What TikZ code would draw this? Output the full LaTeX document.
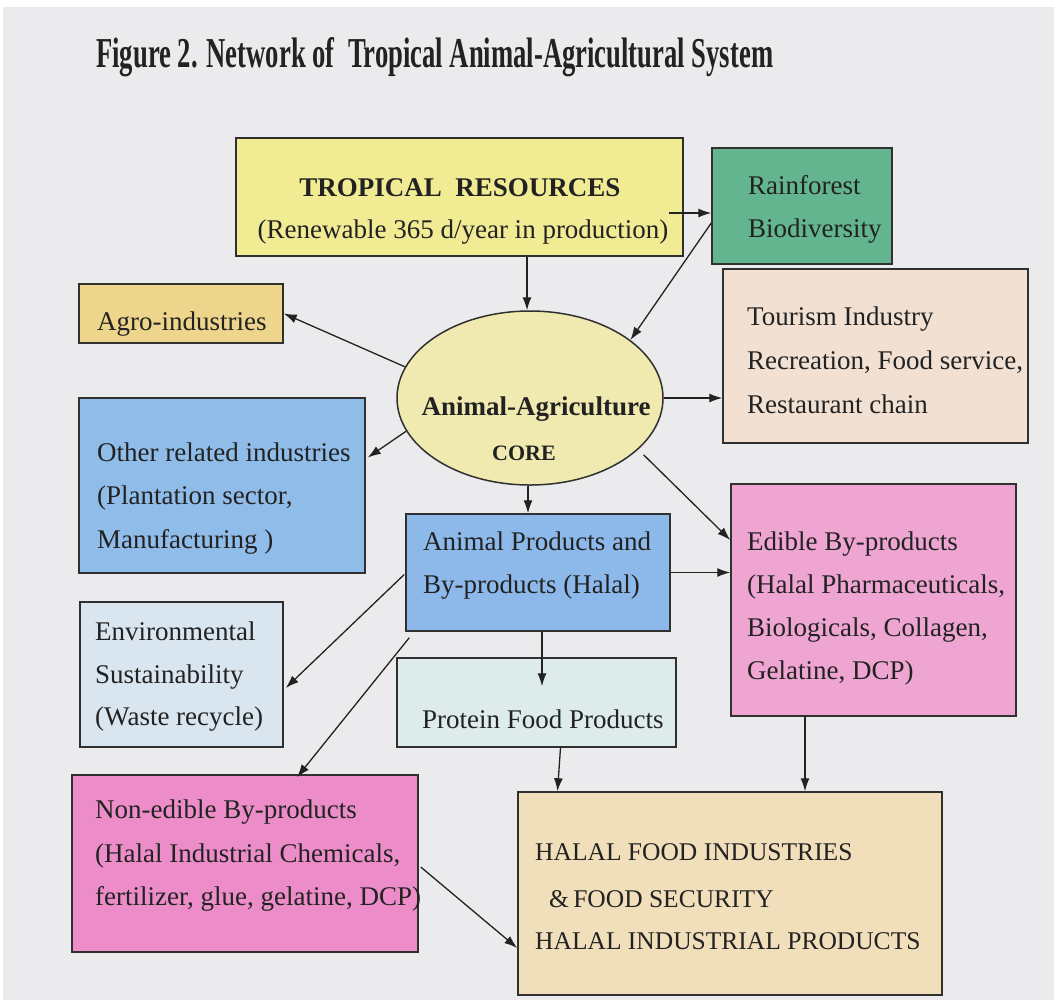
\documentclass[tikz,border=0pt]{standalone}
\usepackage{fontspec}
\setmainfont{Liberation Serif}
\usetikzlibrary{arrows.meta,shapes.geometric}
\definecolor{bgc}{HTML}{EBEBED}
\definecolor{ink}{HTML}{222222}
\definecolor{boxline}{HTML}{303030}
\definecolor{tropY}{HTML}{F1EC93}
\definecolor{rainG}{HTML}{62B58E}
\definecolor{agroO}{HTML}{EED58C}
\definecolor{tourP}{HTML}{F2E1D3}
\definecolor{coreY}{HTML}{F1EAB0}
\definecolor{blueA}{HTML}{8FBCE8}
\definecolor{blueB}{HTML}{8CB9E9}
\definecolor{envB}{HTML}{D9E6F0}
\definecolor{protC}{HTML}{DDEBEB}
\definecolor{pinkE}{HTML}{EFA5D2}
\definecolor{pinkN}{HTML}{EC8DC9}
\definecolor{halalT}{HTML}{F1DEBB}
\begin{document}
\begin{tikzpicture}[x=1pt,y=-1pt,
  box/.style={draw=boxline, line width=1.5pt, inner sep=0pt},
  txt/.style={anchor=base west, inner sep=0pt, text=ink, font=\fontsize{27}{32}\selectfont},
  ctxt/.style={txt, anchor=base},
  arr/.style={draw=ink, line width=1.3pt, -{Latex[length=13pt,width=9pt]}},
  ln/.style={draw=ink, line width=1.3pt}]
% background
\fill[white] (0,0) rectangle (1054,1005);
\fill[bgc] (3,7) rectangle (1054,1000);
\useasboundingbox (0,0) rectangle (1054,1005);

% title
\node[anchor=base west, inner sep=0pt, text=ink] (title) at (96,67)
  {\resizebox{677pt}{30pt}{\fontsize{41}{41}\selectfont\bfseries Figure 2. Network of~~Tropical Animal-Agricultural System}};

% boxes
\node[box, fill=tropY, minimum width=447pt, minimum height=118pt] (trop) at (459.5,197) {};
\node[box, fill=rainG, minimum width=180pt, minimum height=116pt] (rain) at (802,206) {};
\node[box, fill=agroO, minimum width=204pt, minimum height=59pt] (agro) at (181,313.5) {};
\node[box, fill=tourP, minimum width=305pt, minimum height=174pt] (tour) at (875.5,356) {};
\node[box, ellipse, fill=coreY, minimum width=266pt, minimum height=174pt] (core) at (530,398) {};
\node[box, fill=blueA, minimum width=286pt, minimum height=175pt] (oth) at (222,485.5) {};
\node[box, fill=blueB, minimum width=264pt, minimum height=117pt] (anim) at (538,572.5) {};
\node[box, fill=pinkE, minimum width=285pt, minimum height=232pt] (edib) at (873.5,600) {};
\node[box, fill=envB, minimum width=203pt, minimum height=145pt] (env) at (181.5,674.5) {};
\node[box, fill=protC, minimum width=279pt, minimum height=89pt] (prot) at (536.5,702.5) {};
\node[box, fill=pinkN, minimum width=346pt, minimum height=177pt] (nonb) at (245,863.5) {};
\node[box, fill=halalT, minimum width=424pt, minimum height=203pt] (halal) at (730,893.5) {};

% texts
\node[ctxt, font=\fontsize{27}{32}\selectfont\bfseries] (trop-t1) at (460,196) {TROPICAL~~RESOURCES};
\node[ctxt] (trop-t2) at (463,238) {(Renewable 365 d/year in production)};
\node[txt] (rain-t1) at (748,194) {Rainforest};
\node[txt] (rain-t2) at (748,237) {Biodiversity};
\node[txt] (agro-t1) at (97,330) {Agro-industries};
\node[txt] (tour-t1) at (747,325) {Tourism Industry};
\node[txt] (tour-t2) at (747,369) {Recreation, Food service,};
\node[txt] (tour-t3) at (747,413) {Restaurant chain};
\node[ctxt, font=\fontsize{27}{32}\selectfont\bfseries] (core-t1) at (536,415) {Animal-Agriculture};
\node[ctxt, font=\fontsize{22}{26}\selectfont\bfseries] (core-t2) at (524,460) {CORE};
\node[txt] (oth-t1) at (97,461) {Other related industries};
\node[txt] (oth-t2) at (97,504.5) {(Plantation sector,};
\node[txt] (oth-t3) at (97,548) {Manufacturing )};
\node[txt] (anim-t1) at (423,550) {Animal Products and};
\node[txt] (anim-t2) at (423,593) {By-products (Halal)};
\node[txt] (edib-t1) at (747,550) {Edible By-products};
\node[txt] (edib-t2) at (747,593) {(Halal Pharmaceuticals,};
\node[txt] (edib-t3) at (747,636) {Biologicals, Collagen,};
\node[txt] (edib-t4) at (747,679) {Gelatine, DCP)};
\node[txt] (env-t1) at (95,640) {Environmental};
\node[txt] (env-t2) at (95,683) {Sustainability};
\node[txt] (env-t3) at (95,725) {(Waste recycle)};
\node[txt] (prot-t1) at (422,728) {Protein Food Products};
\node[txt] (nonb-t1) at (95,818) {Non-edible By-products};
\node[txt] (nonb-t2) at (95,862) {(Halal Industrial Chemicals,};
\node[txt] (nonb-t3) at (95,905) {fertilizer, glue, gelatine, DCP)};
\node[txt, font=\fontsize{25.5}{30}\selectfont] (halal-t1) at (535,860) {HALAL FOOD INDUSTRIES};
\node[txt, font=\fontsize{25.5}{30}\selectfont] (halal-t2) at (549,907) {\&\,FOOD SECURITY};
\node[txt, font=\fontsize{25.5}{30}\selectfont] (halal-t3) at (535,949) {HALAL INDUSTRIAL PRODUCTS};

% connectors
\draw[arr] ([shift={(-15,16)}]trop.east) -- ([shift={(0,7)}]rain.west);
\draw[arr] ([xshift=-3pt]trop.south -| core.north) -- ([xshift=-3pt]core.north);
\draw[arr] ([shift={(0,17)}]rain.west) -- (core.30);
\draw[arr] (core.166) -- (agro.east);
\draw[arr] (core.195) -- ([shift={(2,-28)}]oth.east);
\draw[arr] (core.east) -- (core.east -| tour.west);
\draw[arr] ([shift={(8,3)}]core.-27) -- ([shift={(0,-60)}]edib.west);
\draw[arr] ([xshift=-2pt]core.south) -- ([xshift=-2pt]core.south |- anim.north);
\draw[arr] (anim.east) -- (anim.east -| edib.west);
\draw[arr] ([shift={(-1,2)}]anim.west) -- ([shift={(2,13.5)}]env.east);
\draw[arr] ([shift={(4,6)}]anim.south west) -- ([shift={(52,3)}]nonb.north);
\draw[arr] ([xshift=4pt]anim.south) -- ([shift={(5.5,29)}]prot.north);
\draw[arr] ([xshift=24pt]prot.south) -- ([xshift=21pt]prot.south |- halal.north);
\draw[arr] ([xshift=-68.5pt]edib.south) -- ([xshift=-68.5pt]edib.south |- halal.north);
\draw[arr] ([shift={(2,3.5)}]nonb.east) -- ([shift={(0,54.5)}]halal.west);
\end{tikzpicture}
\end{document}
